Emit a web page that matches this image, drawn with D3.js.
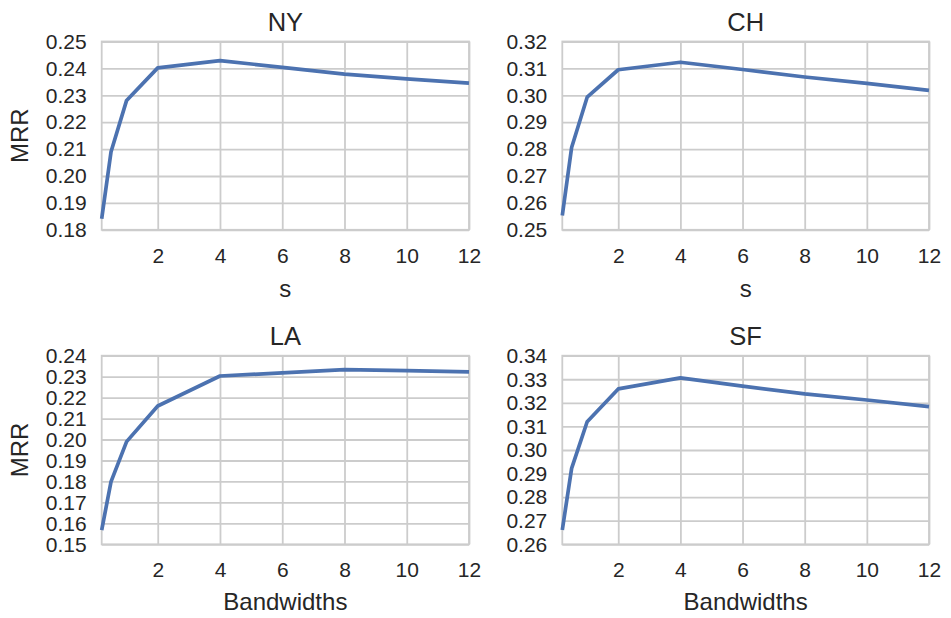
<!DOCTYPE html>
<html>
<head>
<meta charset="utf-8">
<script src="https://cdn.jsdelivr.net/npm/d3@7"></script>
<style>
  html, body { margin: 0; padding: 0; background: #fff; }
  svg { display: block; }
  text { font-family: "Liberation Sans", Arial, Helvetica, sans-serif; fill: #262626; }
</style>
</head>
<body>
<svg id="chart" width="951" height="618"></svg>
<script>
// ---- data ----
const bandwidths = [0.2, 0.5, 1, 2, 4, 6, 8, 10, 12];
const xTicks = [2, 4, 6, 8, 10, 12];

const cities = ["NY", "CH", "LA", "SF"];
const mrrNY = [0.1841, 0.2090, 0.2281, 0.2402, 0.2429, 0.2404, 0.2379, 0.2361, 0.2345];
const mrrCH = [0.2553, 0.2806, 0.2993, 0.3095, 0.3123, 0.3096, 0.3068, 0.3044, 0.3018];
const mrrLA = [0.1568, 0.1799, 0.1990, 0.2160, 0.2303, 0.2318, 0.2334, 0.2329, 0.2323];
const mrrSF = [0.2661, 0.2922, 0.3120, 0.3259, 0.3306, 0.3271, 0.3238, 0.3212, 0.3184];

const yDomains = [[0.18, 0.25], [0.25, 0.32], [0.15, 0.24], [0.26, 0.34]];
const yTicksNY = [0.18, 0.19, 0.20, 0.21, 0.22, 0.23, 0.24, 0.25];
const yTicksCH = [0.25, 0.26, 0.27, 0.28, 0.29, 0.30, 0.31, 0.32];
const yTicksLA = [0.15, 0.16, 0.17, 0.18, 0.19, 0.20, 0.21, 0.22, 0.23, 0.24];
const yTicksSF = [0.26, 0.27, 0.28, 0.29, 0.30, 0.31, 0.32, 0.33, 0.34];

const xLabels = ["s", "s", "Bandwidths", "Bandwidths"];
const yLabel = "MRR";

// ---- layout ----
const panels = [
  { name: cities[0], values: mrrNY, yTicks: yTicksNY, dom: yDomains[0], xl: xLabels[0], left: 101.7, right: 469, top: 41.5, bottom: 229.8, showY: true },
  { name: cities[1], values: mrrCH, yTicks: yTicksCH, dom: yDomains[1], xl: xLabels[1], left: 562.3, right: 929, top: 41.5, bottom: 229.8, showY: false },
  { name: cities[2], values: mrrLA, yTicks: yTicksLA, dom: yDomains[2], xl: xLabels[2], left: 101.7, right: 469, top: 355.7, bottom: 544.3, showY: true },
  { name: cities[3], values: mrrSF, yTicks: yTicksSF, dom: yDomains[3], xl: xLabels[3], left: 562.3, right: 929, top: 355.7, bottom: 544.3, showY: false }
];

const svg = d3.select("#chart");
const gridColor = "#cccccc";
const lineColor = "#4c72b0";

panels.forEach((p, i) => {
  const x = d3.scaleLinear().domain([bandwidths[0], bandwidths[bandwidths.length - 1]]).range([p.left, p.right]);
  const y = d3.scaleLinear().domain(p.dom).range([p.bottom, p.top]);
  const w = p.right - p.left, h = p.bottom - p.top;
  const g = svg.append("g");

  // y axis + horizontal grid
  const ya = g.append("g")
    .attr("transform", `translate(${p.left},0)`)
    .call(d3.axisLeft(y).tickValues(p.yTicks).tickFormat(d3.format(".2f")).tickSize(-w).tickSizeOuter(0).tickPadding(15));
  ya.select(".domain").remove();
  ya.selectAll(".tick line").attr("stroke", gridColor).attr("stroke-width", 1.8);
  ya.selectAll(".tick text").attr("font-size", 21).attr("fill", "#262626")
    .style("font-family", '"Liberation Sans", Arial, sans-serif');

  // x axis + vertical grid
  const xa = g.append("g")
    .attr("transform", `translate(0,${p.bottom})`)
    .call(d3.axisBottom(x).tickValues(xTicks).tickFormat(d3.format("d")).tickSize(-h).tickSizeOuter(0).tickPadding(17.8));
  xa.select(".domain").remove();
  xa.selectAll(".tick line").attr("stroke", gridColor).attr("stroke-width", 1.8);
  xa.selectAll(".tick text").attr("font-size", 21).attr("fill", "#262626")
    .style("font-family", '"Liberation Sans", Arial, sans-serif');

  // frame (spines)
  g.append("rect")
    .attr("x", p.left).attr("y", p.top).attr("width", w).attr("height", h)
    .attr("fill", "none").attr("stroke", gridColor).attr("stroke-width", 1.8);

  // line
  const line = d3.line().x((d, j) => x(bandwidths[j])).y(d => y(d));
  g.append("path")
    .datum(p.values)
    .attr("d", line)
    .attr("fill", "none")
    .attr("stroke", lineColor)
    .attr("stroke-width", 3.7)
    .attr("stroke-linejoin", "round")
    .attr("stroke-linecap", "butt");

  // title
  g.append("text")
    .attr("x", (p.left + p.right) / 2)
    .attr("y", p.top - 10.8)
    .attr("text-anchor", "middle")
    .attr("font-size", 25.5)
    .text(p.name);

  // x label
  g.append("text")
    .attr("x", (p.left + p.right) / 2)
    .attr("y", p.bottom + (i < 2 ? 66.9 : 65.7))
    .attr("text-anchor", "middle")
    .attr("font-size", 24)
    .text(p.xl);

  // y label
  if (p.showY) {
    const cy = (p.top + p.bottom) / 2;
    g.append("text")
      .attr("transform", `translate(28.3,${cy}) rotate(-90)`)
      .attr("text-anchor", "middle")
      .attr("font-size", 24)
      .text(yLabel);
  }
});
</script>
</body>
</html>
